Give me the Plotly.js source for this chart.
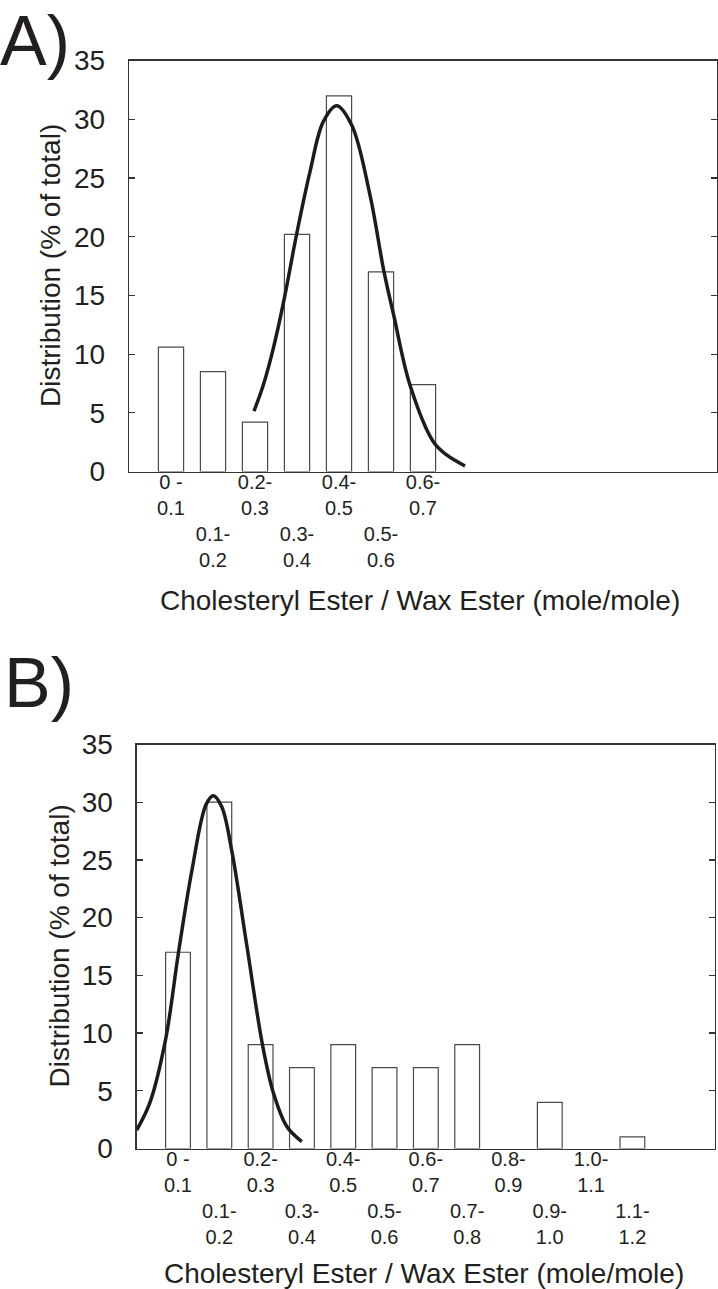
<!DOCTYPE html>
<html>
<head>
<meta charset="utf-8">
<script src="https://cdn.plot.ly/plotly-3.0.1.min.js"></script>
<style>
html,body{margin:0;padding:0;background:#fff;}
#chart{width:718px;height:1289px;}
</style>
</head>
<body>
<div id="chart"></div>
<script>
// ---- Data ----
const categoriesA = ["0 - 0.1","0.1- 0.2","0.2- 0.3","0.3- 0.4","0.4- 0.5","0.5- 0.6","0.6- 0.7"];
const valuesA = [10.6, 8.5, 4.2, 20.2, 32, 17, 7.4];
const fitAx = [1.976, 2.198, 2.436, 2.698, 2.992, 3.310, 3.626, 3.945, 4.302, 4.738, 5.071, 5.302, 5.690, 6.246, 6.564, 7.0];
const fitAy = [5.15, 7.37, 10.49, 14.75, 20.23, 25.54, 29.80, 31.16, 29.51, 23.55, 17.02, 13.33, 7.37, 2.54, 1.41, 0.47];

const categoriesB = ["0 - 0.1","0.1- 0.2","0.2- 0.3","0.3- 0.4","0.4- 0.5","0.5- 0.6","0.6- 0.7","0.7- 0.8","0.8- 0.9","0.9- 1.0","1.0- 1.1","1.1- 1.2"];
const valuesB = [17, 30, 9, 7, 9, 7, 7, 9, 0, 4, 0, 1];
const fitBx = [-1.0, -0.678, -0.298, 0.008, 0.332, 0.679, 0.856, 1.059, 1.301, 1.665, 2.043, 2.310, 2.634, 2.997];
const fitBy = [1.6, 4.0, 9.5, 16.9, 24.0, 29.8, 30.57, 29.6, 25.8, 17.6, 9.03, 4.8, 1.9, 0.59];

const yTicks = [0, 5, 10, 15, 20, 25, 30, 35];
const panelLabels = ["A)", "B)"];
const xTitle = "Cholesteryl Ester / Wax Ester (mole/mole)";
const yTitle = "Distribution (% of total)";

// ---- Helpers ----
function tickText(cats) {
  return cats.map((c, i) => {
    const k = c.lastIndexOf(" ");
    const txt = c.slice(0, k) + "<br>" + c.slice(k + 1);
    return i % 2 === 0 ? txt : "\u00a0<br>\u00a0<br>" + txt;
  });
}
const idxA = categoriesA.map((c, i) => i);
const idxB = categoriesB.map((c, i) => i);
// zero-height bins are not drawn as bars
const drawA = valuesA.map(v => (v === 0 ? null : v));
const drawB = valuesB.map(v => (v === 0 ? null : v));

const textColor = "#231f20";
const frameColor = "#333333";
const font = "Liberation Sans, Arial, Helvetica, sans-serif";

const traces = [
  {type: "bar", x: idxA, y: drawA, width: 0.6, xaxis: "x", yaxis: "y",
   marker: {color: "#ffffff", line: {color: "#4a4a4a", width: 1.2}}, hoverinfo: "skip"},
  {type: "scatter", mode: "lines", x: fitAx, y: fitAy, xaxis: "x", yaxis: "y",
   line: {color: "#1c1c1c", width: 3.5, shape: "spline", smoothing: 1}, hoverinfo: "skip"},
  {type: "bar", x: idxB, y: drawB, width: 0.6, xaxis: "x2", yaxis: "y2",
   marker: {color: "#ffffff", line: {color: "#4a4a4a", width: 1.2}}, hoverinfo: "skip"},
  {type: "scatter", mode: "lines", x: fitBx, y: fitBy, xaxis: "x2", yaxis: "y2",
   line: {color: "#1c1c1c", width: 3.5, shape: "spline", smoothing: 1}, hoverinfo: "skip"}
];

function xAxis(domain, idx, cats, anchor) {
  return {
    domain: domain, anchor: anchor, range: [-1, 13], type: "linear",
    tickmode: "array", tickvals: idx, ticktext: tickText(cats),
    ticks: "", showgrid: false, zeroline: false,
    showline: true, linecolor: frameColor, linewidth: 1.3, mirror: true,
    tickfont: {family: font, size: 20, color: textColor},
    ticklabelstandoff: -8, fixedrange: true
  };
}
function yAxis(domain, anchor) {
  return {
    domain: domain, anchor: anchor, range: [0, 35],
    tickmode: "array", tickvals: yTicks, ticktext: yTicks.map(String),
    ticks: "inside", ticklen: 6, tickwidth: 1.2, tickcolor: frameColor,
    showgrid: false, zeroline: false,
    showline: true, linecolor: frameColor, linewidth: 1.3, mirror: "ticks",
    tickfont: {family: font, size: 28, color: textColor},
    ticklabelstandoff: 17, fixedrange: true
  };
}

const H = 1289, W = 718;
const layout = {
  width: W, height: H,
  margin: {l: 0, r: 0, t: 0, b: 0},
  paper_bgcolor: "#ffffff", plot_bgcolor: "#ffffff",
  showlegend: false,
  bargap: 0.4,
  xaxis: xAxis([129 / W, 717 / W], idxA, categoriesA, "y"),
  yaxis: yAxis([1 - 471.5 / H, 1 - 60.6 / H], "x"),
  xaxis2: xAxis([136.7 / W, 715 / W], idxB, categoriesB, "y2"),
  yaxis2: yAxis([1 - 1148.5 / H, 1 - 744.5 / H], "x2"),
  annotations: [
    {text: panelLabels[0], xref: "paper", yref: "paper", x: -2 / W, y: 1,
     xanchor: "left", yanchor: "top", showarrow: false,
     font: {family: font, size: 70, color: textColor}},
    {text: panelLabels[1], xref: "paper", yref: "paper", x: 2 / W, y: 1 - 642 / H,
     xanchor: "left", yanchor: "top", showarrow: false,
     font: {family: font, size: 70, color: textColor}},
    {text: yTitle, xref: "paper", yref: "paper", x: 51 / W, y: 1 - 266 / H,
     xanchor: "center", yanchor: "middle", textangle: -90, showarrow: false,
     font: {family: font, size: 28, color: textColor}},
    {text: yTitle, xref: "paper", yref: "paper", x: 59 / W, y: 1 - 946.5 / H,
     xanchor: "center", yanchor: "middle", textangle: -90, showarrow: false,
     font: {family: font, size: 28, color: textColor}},
    {text: xTitle, xref: "paper", yref: "paper", x: 420 / W, y: 1 - 600 / H,
     xanchor: "center", yanchor: "middle", showarrow: false,
     font: {family: font, size: 28, color: textColor}},
    {text: xTitle, xref: "paper", yref: "paper", x: 424 / W, y: 1 - 1273 / H,
     xanchor: "center", yanchor: "middle", showarrow: false,
     font: {family: font, size: 28, color: textColor}}
  ]
};

Plotly.newPlot("chart", traces, layout, {staticPlot: true, displayModeBar: false});
</script>
</body>
</html>
